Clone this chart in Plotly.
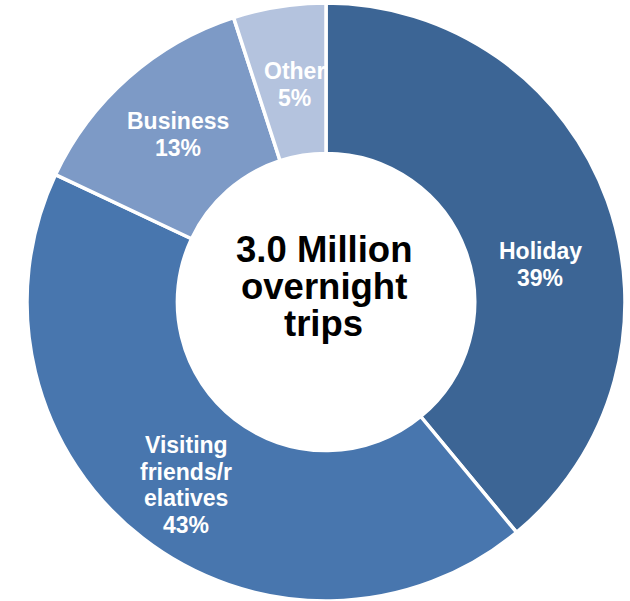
import plotly.graph_objects as go

# Purpose of overnight trips (share of 3.0 million trips)
categories = ["Holiday", "Visiting friends/relatives", "Business", "Other"]
shares = [39, 43, 13, 5]
label_lines = [
    ["Holiday"],
    ["Visiting", "friends/r", "elatives"],
    ["Business"],
    ["Other"],
]
center_lines = ["3.0 Million", "overnight", "trips"]

colors = ["#3C6595", "#4876AE", "#7D9AC6", "#B4C3DE"]

W, H = 630, 601
FONT = "Liberation Sans, Arial, sans-serif"

fig = go.Figure(
    go.Pie(
        labels=categories,
        values=shares,
        sort=False,
        direction="clockwise",
        rotation=0,
        hole=0.497,
        textinfo="none",
        hoverinfo="label+percent",
        marker=dict(colors=colors, line=dict(color="white", width=3.5)),
        domain=dict(x=[27 / W, 625 / W], y=[0, 598 / H]),
        showlegend=False,
    )
)

# Label placement (pixel anchor of the first baseline)
label_anchor = {
    "Holiday": (540, 259),
    "Visiting friends/relatives": (186, 453),
    "Business": (178, 129),
    "Other": (294, 79),
}


def add_lines(lines, x, y0, step, size, color):
    for i, line in enumerate(lines):
        baseline = y0 + i * step
        ymid = baseline - 0.3465 * size
        fig.add_annotation(
            x=x / W, y=1 - ymid / H, xref="paper", yref="paper",
            text=f"<b>{line}</b>", showarrow=False,
            xanchor="center", yanchor="middle",
            font=dict(family=FONT, size=size, color=color),
        )


for cat, share, lines in zip(categories, shares, label_lines):
    x, y0 = label_anchor[cat]
    add_lines(lines + [f"{share}%"], x, y0, 26.5, 23, "white")

add_lines(center_lines, 324, 262, 37, 36.5, "black")

fig.update_layout(
    width=W, height=H,
    margin=dict(l=0, r=0, t=0, b=0),
    paper_bgcolor="white", plot_bgcolor="white",
)

fig.write_html("out.html")
